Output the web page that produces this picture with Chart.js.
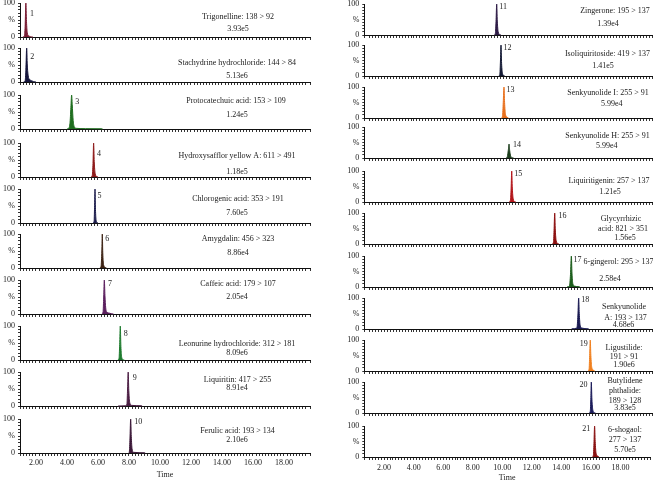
<!DOCTYPE html>
<html><head><meta charset="utf-8">
<script src="https://cdn.jsdelivr.net/npm/chart.js@4.4.1/dist/chart.umd.min.js"></script>
<style>
html,body{margin:0;padding:0;background:#fff;width:653px;height:482px;overflow:hidden;position:relative}
canvas{position:absolute}
</style></head><body>
<script>
// ---------- DATA ----------
const peakIds = ['1','2','3','4','5','6','7','8','9','10','11','12','13','14','15','16','17','18','19','20','21'];
const compoundNames = ['Trigonelline','Stachydrine hydrochloride','Protocatechuic acid','Hydroxysafflor yellow A','Chlorogenic acid','Amygdalin','Caffeic acid','Leonurine hydrochloride','Liquiritin','Ferulic acid','Zingerone','Isoliquiritoside','Senkyunolide I','Senkyunolide H','Liquiritigenin','Glycyrrhizic acid','6-gingerol','Senkyunolide A','Ligustilide','Butylidene phthalide','6-shogaol'];
const transitions = ['138 > 92','144 > 84','153 > 109','611 > 491','353 > 191','456 > 323','179 > 107','312 > 181','417 > 255','193 > 134','195 > 137','419 > 137','255 > 91','255 > 91','257 > 137','821 > 351','295 > 137','193 > 137','191 > 91','189 > 128','277 > 137'];
const intensities = ['3.93e5','5.13e6','1.24e5','1.18e5','7.60e5','8.86e4','2.05e4','8.09e6','8.91e4','2.10e6','1.39e4','1.41e5','5.99e4','5.99e4','1.21e5','1.56e5','2.58e4','4.68e6','1.90e6','3.83e5','5.70e5'];
const timeTickLabels = ['2.00','4.00','6.00','8.00','10.00','12.00','14.00','16.00','18.00'];
const yTickLabels = {0:'0', 50:'%', 100:'100'};

// chromatogram traces [time (min), relative intensity (%)]
const trace01 = [[1.15,0],[1.25,2],[1.30,30],[1.35,100],[1.39,45],[1.44,12],[1.52,4],[1.65,1],[1.8,0]];
const trace02 = [[1.2,0],[1.3,3],[1.35,35],[1.40,100],[1.44,50],[1.50,18],[1.58,8],[1.70,4],[1.85,1],[2.0,0]];
const trace03 = [[4.0,0],[4.12,3],[4.2,20],[4.26,70],[4.30,100],[4.34,72],[4.40,25],[4.48,6],[4.6,2],[5.2,1],[6.2,0.6],[6.3,0]];
const trace04 = [[5.55,0],[5.63,4],[5.68,40],[5.72,100],[5.76,45],[5.82,10],[5.9,2],[6.0,0]];
const trace05 = [[5.68,0],[5.75,5],[5.78,45],[5.81,100],[5.84,40],[5.88,8],[5.95,1],[6.0,0]];
const trace06 = [[6.12,0],[6.2,5],[6.25,50],[6.28,100],[6.31,45],[6.36,10],[6.45,2],[6.55,0]];
const trace07 = [[6.25,0],[6.33,6],[6.37,50],[6.41,100],[6.45,55],[6.5,18],[6.58,6],[6.7,3],[6.85,1],[7.0,0]];
const trace08 = [[7.28,0],[7.36,5],[7.40,45],[7.44,100],[7.48,40],[7.53,8],[7.62,1],[7.7,0]];
const trace09 = [[7.3,0],[7.8,0.6],[7.87,6],[7.91,50],[7.95,100],[7.99,45],[8.05,10],[8.15,2],[8.8,0.6],[8.85,0]];
const trace10 = [[8.0,0.6],[8.03,6],[8.07,50],[8.11,100],[8.15,48],[8.2,12],[8.3,2],[9.0,0.6],[9.05,0]];
const trace11 = [[9.4,0],[9.47,5],[9.52,50],[9.56,100],[9.60,45],[9.66,10],[9.75,2],[9.85,0]];
const trace12 = [[9.7,0],[9.77,5],[9.81,45],[9.85,100],[9.89,40],[9.95,8],[10.05,1],[10.1,0]];
const trace13 = [[9.88,0],[9.95,6],[10.0,50],[10.05,100],[10.09,50],[10.15,12],[10.25,3],[10.35,0]];
const trace14 = [[10.2,0],[10.28,5],[10.34,25],[10.39,45],[10.43,25],[10.5,6],[10.6,1],[10.7,0]];
const trace15 = [[10.4,0],[10.48,5],[10.53,45],[10.57,100],[10.61,45],[10.67,10],[10.75,2],[10.85,0]];
const trace16 = [[13.3,0],[13.38,6],[13.42,50],[13.46,100],[13.50,45],[13.56,10],[13.65,2],[13.75,0]];
const trace17 = [[14.3,0.6],[14.45,3],[14.52,40],[14.58,100],[14.62,45],[14.68,10],[14.78,3],[15.1,0.6],[15.15,0]];
const trace18 = [[14.6,0.6],[14.95,3],[15.02,45],[15.07,100],[15.11,50],[15.17,12],[15.28,3],[15.7,0.6],[15.75,0]];
const trace19 = [[15.7,0],[15.77,6],[15.81,50],[15.85,100],[15.89,50],[15.95,12],[16.05,3],[16.15,0]];
const trace20 = [[15.78,0],[15.85,5],[15.89,50],[15.92,100],[15.96,45],[16.02,10],[16.1,2],[16.2,0]];
const trace21 = [[16.1,0],[16.17,6],[16.21,50],[16.25,100],[16.29,50],[16.35,12],[16.45,3],[16.55,0]];
const traces = [trace01,trace02,trace03,trace04,trace05,trace06,trace07,trace08,trace09,trace10,trace11,trace12,trace13,trace14,trace15,trace16,trace17,trace18,trace19,trace20,trace21];

// ---------- STYLE / LAYOUT ----------
const colors = ['#7a1e35','#16163c','#1f6e1f','#8e1b1b','#1b1b4a','#3d2314','#5b1f5e','#1e7b2e','#4b1d43','#3b1838',
                '#2d1a45','#141a35','#e8711f','#1c3d1c','#b3161b','#8c0f0f','#1c5e1c','#1a1a52','#f0801f','#1b1b5a','#8a1212'];
const FONT = '"Liberation Serif", "DejaVu Serif", serif';
Chart.defaults.font.family = FONT;
Chart.defaults.font.size = 8;
const PAD_TOP = 9;

const columns = [
  {left:0, width:315, yW:20, padR:5, plotH:34, xmin:0.97, xmax:19.68, tickPad:2, titleH:26.8,
   baselines:[37,82,128.5,176.5,222.5,268,313.5,359.5,406,452.5], panels:[0,1,2,3,4,5,6,7,8,9]},
  {left:330, width:323, yW:34.3, padR:1, plotH:31, xmin:0.66, xmax:20.0, tickPad:3, titleH:25.5,
   baselines:[34.5,76,118,158,201.5,243.5,286.5,328.5,370.5,412.5,456.5], panels:[10,11,12,13,14,15,16,17,18,19,20]}
];
// peak number label offset: [dx from peak, dy from plot top]
const numPos = [[6,11],[5.6,9.3],[5.6,7.2],[5.3,10.8],[4.5,6.8],[5,5.3],[5.7,3.8],[5.4,7.8],[6.5,6.3],[7.6,2.5],
                [6.5,3.2],[6.5,3.3],[6.5,3],[8,17.7],[6.5,2.8],[7.7,2.8],[6.2,3.8],[6.5,1.8],[-6.4,3.8],[-7.7,2.8],[-8.4,3.2]];
// compound label: [[absolute centre x per line], [line dy from plot top]]
const textPos = [
  [[238,238],[14,26]],[[237,237],[15,28]],[[236,237],[5.5,19.5]],[[237,237],[13.2,28.5]],[[238,237],[9.8,23.8]],
  [[238,238],[5.3,19.3]],[[238,237],[3.8,16.5]],[[237,237],[17.8,27.2]],[[237.5,237],[8,16.3]],[[237.5,237],[12.2,20.5]],
  [[615,608],[6.8,19.8]],[[607.5,603],[9,21]],[[608,611.7],[5.7,17]],[[607.5,606.7],[8.7,18.7]],[[609,610],[10.2,20.8]],
  [[621,623,625],[5.8,16.2,25]],[[618.5,610],[5.8,22.8]],[[624,625.5,623.5],[9.2,19.8,26.8]],[[624,624,624],[7.8,16.5,24.5]],
  [[625,625,625,625],[-1.2,9.2,19.2,25.8]],[[625,625,625],[3.5,13.8,23.8]]];
const wrapMode = [0,0,0,0,0,0,0,0,0,0, 0,0,0,0,0,1,0,1,2,3,2];

function labelLines(p){
  const n = compoundNames[p], t = transitions[p], v = intensities[p];
  const w = n.split(' ');
  switch(wrapMode[p]){
    case 1: return [w[0], w.slice(1).join(' ') + ': ' + t, v];
    case 2: return [n + ':', t, v];
    case 3: return [w[0], w.slice(1).join(' ') + ':', t, v];
    default: return [n + ': ' + t, v];
  }
}

const annot = {
  id:'annot',
  afterDatasetsDraw(chart, args, opts){
    const p = opts.panel;
    const {ctx, chartArea, scales} = chart;
    const tr = traces[p];
    let best = tr[0];
    tr.forEach(pt => { if (pt[1] > best[1]) best = pt; });
    ctx.save();
    ctx.font = '8px ' + FONT;
    ctx.fillStyle = '#1a1a1a';
    ctx.textAlign = 'center';
    ctx.textBaseline = 'middle';
    ctx.fillText(peakIds[p], scales.x.getPixelForValue(best[0]) + numPos[p][0], chartArea.top + numPos[p][1]);
    labelLines(p).forEach((s, i) => ctx.fillText(s, textPos[p][0][i] - opts.offsetX, chartArea.top + textPos[p][1][i]));
    ctx.restore();
  }
};

function isLabelTick(v){
  const s = (Math.round(v * 100) / 100).toFixed(2);
  return timeTickLabels.includes(s) ? s : '';
}

columns.forEach(col => {
  col.panels.forEach((p, i) => {
    const last = i === col.panels.length - 1;
    const xH = last ? col.titleH : 3;
    const top = col.baselines[i] - col.plotH - PAD_TOP;
    const h = last ? Math.ceil(PAD_TOP + col.plotH + xH) : PAD_TOP + col.plotH + 9;
    const padB = h - PAD_TOP - col.plotH - xH;
    const cv = document.createElement('canvas');
    cv.width = col.width; cv.height = h;
    cv.style.left = col.left + 'px'; cv.style.top = top + 'px';
    cv.style.width = col.width + 'px'; cv.style.height = h + 'px';
    document.body.appendChild(cv);
    new Chart(cv, {
      type:'line',
      data:{datasets:[{
        data: traces[p].map(([x, y]) => ({x, y})),
        borderColor: colors[p], backgroundColor: colors[p], borderWidth: 1,
        fill: 'origin', pointRadius: 0, cubicInterpolationMode: 'monotone', clip: 2
      }]},
      options:{
        responsive:false, animation:false, events:[], devicePixelRatio:1,
        layout:{padding:{left:0, right:col.padR, top:PAD_TOP, bottom:padB}},
        plugins:{legend:{display:false}, tooltip:{enabled:false}, annot:{panel:p, offsetX:col.left}},
        scales:{
          x:{type:'linear', min:col.xmin, max:col.xmax,
             grid:{display:true, drawOnChartArea:false, drawTicks:true, tickLength:3, color:'#333', lineWidth:1},
             border:{display:true, color:'#111', width:1},
             ticks:{display:last, stepSize:0.2, autoSkip:false, maxRotation:0, minRotation:0, padding:col.tickPad,
                    color:'#222', font:{size:8, family:FONT}, callback:v => isLabelTick(v)},
             title:{display:last, text:'Time', color:'#222', font:{size:8, family:FONT}, padding:0},
             afterFit: s => { s.height = xH; }},
          y:{min:0, max:100,
             grid:{display:true, drawOnChartArea:false, drawTicks:true, tickLength:2, color:'#333'},
             border:{display:true, color:'#111', width:1},
             ticks:{stepSize:10, autoSkip:false, padding:3, color:'#222', font:{size:8, family:FONT},
                    callback:v => (yTickLabels[Math.round(v)] !== undefined ? yTickLabels[Math.round(v)] : '')},
             afterFit: s => { s.width = col.yW; }}
        }
      },
      plugins:[annot]
    });
  });
});
</script>
</body></html>
